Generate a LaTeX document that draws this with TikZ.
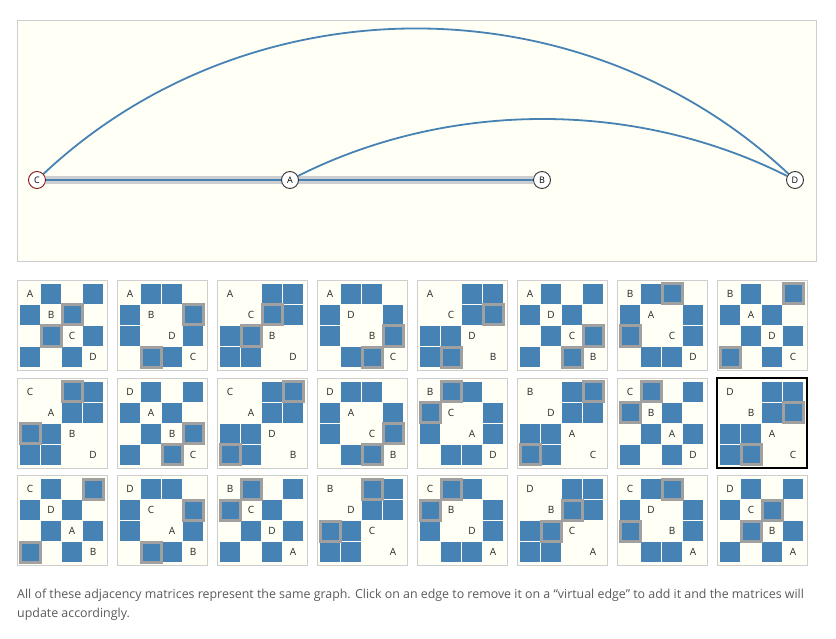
\documentclass[tikz,border=0pt]{standalone}
\usepackage{fontspec}
\setmainfont{Open Sans}
\usepackage{xcolor}
\usepackage{tikz}
\usetikzlibrary{calc, backgrounds}
\definecolor{MatBlue}{RGB}{70,130,180}
\definecolor{PanelBg}{RGB}{255,255,245}
\definecolor{FrameGray}{RGB}{206,206,206}
\definecolor{HiGray}{RGB}{160,160,160}
\definecolor{BandGray}{RGB}{204,206,210}
\definecolor{NoteGray}{RGB}{90,90,90}
\definecolor{StartRed}{RGB}{130,20,20}
% edges of the graph, and the one that is marked
\newcommand\graphedge[2]{\expandafter\def\csname adj-#1#2\endcsname{}\expandafter\def\csname adj-#2#1\endcsname{}}
\newcommand\markedge[2]{\expandafter\def\csname hl-#1#2\endcsname{}\expandafter\def\csname hl-#2#1\endcsname{}}
\graphedge AB \graphedge AD \graphedge BC \graphedge CD
\markedge BC
\tikzset{
  panel/.style={draw=FrameGray, fill=PanelBg, line width=0.8pt},
  gnode/.style={
    circle, draw=black!80, fill=white, line width=0.9pt,
    minimum size=17pt, inner sep=0pt,
    font=\fontsize{9}{9}\selectfont
  },
  edge/.style={draw=MatBlue, line width=1.8pt},
  vedge/.style={draw=BandGray, line width=8pt},
  matbox/.style={draw=FrameGray, fill=PanelBg, line width=1pt},
  selbox/.style={draw=black, line width=1.4pt},
  cell/.style={fill=MatBlue},
  hlcell/.style={fill=MatBlue, draw=HiGray, line width=3pt},
  diag/.style={inner sep=0pt, text=black!85, font=\fontsize{10}{10}\selectfont},
  note/.style={anchor=west, inner sep=0pt, text=NoteGray, font=\fontsize{12.4}{13}\selectfont}
}

\begin{document}
\begin{tikzpicture}[x=1pt, y=-1pt]
  \useasboundingbox (0,0) rectangle (836,639);

  % graph panel
  \node[gnode, draw=StartRed] (C) at (37,180) {C};
  \node[gnode] (A) at (290,180) {A};
  \node[gnode] (B) at (542,180) {B};
  \node[gnode] (D) at (795,180) {D};

  \begin{scope}[on background layer]
    \draw[panel] (17,20) rectangle (816,261);
    \draw[vedge] (C) -- (B);
    \draw[edge] (C) -- (A) -- (B);
    \draw[edge] (C) .. controls +(213,-200) and +(-213,-200) .. (D);
    \draw[edge] (A) .. controls +(159,-80) and +(-159,-80) .. (D);
  \end{scope}

  % the 24 orderings
  \foreach \perm [count=\n from 0] in {
    {A,B,C,D},{A,B,D,C},{A,C,B,D},{A,D,B,C},{A,C,D,B},{A,D,C,B},{B,A,C,D},{B,A,D,C},
    {C,A,B,D},{D,A,B,C},{C,A,D,B},{D,A,C,B},{B,C,A,D},{B,D,A,C},{C,B,A,D},{D,B,A,C},
    {C,D,A,B},{D,C,A,B},{B,C,D,A},{B,D,C,A},{C,B,D,A},{D,B,C,A},{C,D,B,A},{D,C,B,A}}{
    \pgfmathsetmacro{\bx}{17+100*mod(\n,8)}
    \pgfmathsetmacro{\by}{280.5+97.5*floor(\n/8)}
    \draw[matbox] (\bx,\by) rectangle ++(90,90);
    \ifnum\n=15 \draw[selbox] (\bx,\by) rectangle ++(90,90); \fi
    \foreach \li [count=\i from 0] in \perm {
      \foreach \lj [count=\j from 0] in \perm {
        \ifcsname adj-\li\lj\endcsname
          \fill[cell] (\bx+3+21*\j, \by+3.5+21*\i) rectangle ++(20,20);
        \fi
      }
      \node[diag] (m\n\li) at (\bx+13+21*\i, \by+13.5+21*\i) {\li};
    }
    \foreach \li [count=\i from 0] in \perm {
      \foreach \lj [count=\j from 0] in \perm {
        \ifcsname hl-\li\lj\endcsname
          \draw[hlcell] (\bx+3+21*\j, \by+3.5+21*\i) rectangle ++(20,20);
        \fi
      }
    }
  }

  \node[note] (note1) at (17,595) {All of these adjacency matrices represent the same graph. Click on an edge to remove it on a “virtual edge” to add it and the matrices will};
  \node[note] (note2) at (17,614) {update accordingly.};
\end{tikzpicture}
\end{document}
